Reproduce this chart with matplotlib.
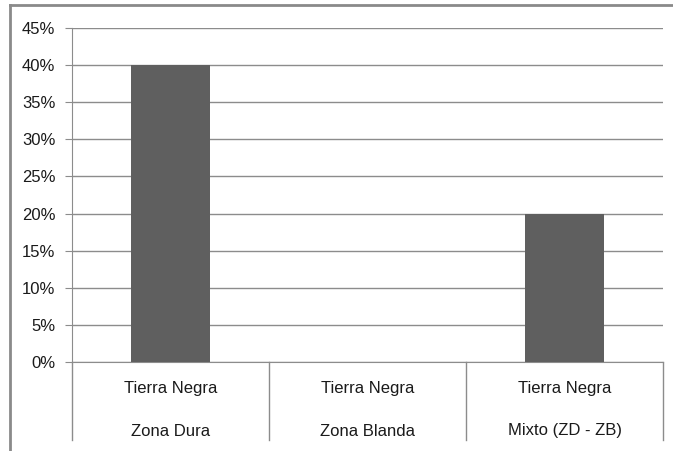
import numpy as np
import matplotlib.pyplot as plt
from matplotlib.lines import Line2D
from matplotlib.ticker import FuncFormatter

categorias = ['Tierra Negra\nZona Dura', 'Tierra Negra\nZona Blanda', 'Tierra Negra\nMixto (ZD - ZB)']
valores = [0.40, 0.0, 0.20]
ticks_y = [0, 0.05, 0.10, 0.15, 0.20, 0.25, 0.30, 0.35, 0.40, 0.45]

plt.rcParams['font.family'] = ['Liberation Sans', 'DejaVu Sans']
W, H = 673, 451
fig = plt.figure(figsize=(W / 100, H / 100), dpi=100)
ax = fig.add_axes([72 / W, (H - 362) / H, (663 - 72) / W, (362 - 28) / H])

x = np.arange(len(categorias))
ax.bar(x, valores, width=0.4, color='#5f5f5f', zorder=3)
ax.set_xlim(-0.5, len(categorias) - 0.5)
ax.set_ylim(0, 0.45)
ax.set_yticks(ticks_y)
ax.yaxis.set_major_formatter(FuncFormatter(lambda v, p: '%d%%' % round(v * 100)))
ax.grid(axis='y', color='#8c8c8c', linewidth=1, zorder=0)
ax.tick_params(axis='y', length=5, color='#8c8c8c', labelsize=12, labelcolor='#1a1a1a', pad=7)
ax.set_xticks([])
for s in ['top', 'right']:
    ax.spines[s].set_visible(False)
for s in ['left', 'bottom']:
    ax.spines[s].set_color('#8c8c8c')

# category labels (two lines) and separators below the axis
pxy = 1.0 / (362 - 28)
for i, lab in enumerate(categorias):
    top, bottom = lab.split('\n')
    ax.text(i, -(389 - 362) * pxy, top, ha='center', va='center', fontsize=12,
            color='#1a1a1a', transform=ax.get_xaxis_transform(), clip_on=False)
    ax.text(i, -(431 - 362) * pxy, bottom, ha='center', va='center', fontsize=12,
            color='#1a1a1a', transform=ax.get_xaxis_transform(), clip_on=False)
for xs in np.arange(-0.5, len(categorias), 1.0):
    ax.plot([xs, xs], [0, -(440 - 362) * pxy], color='#8c8c8c', linewidth=1,
            transform=ax.get_xaxis_transform(), clip_on=False)

# outer chart border
fig.add_artist(Line2D([10 / W, 1], [1 - 5 / H, 1 - 5 / H], color='#8a8a8a', linewidth=2))
fig.add_artist(Line2D([10 / W, 10 / W], [0, 1 - 5 / H], color='#8a8a8a', linewidth=2))

fig.savefig('out.png', dpi=100)
